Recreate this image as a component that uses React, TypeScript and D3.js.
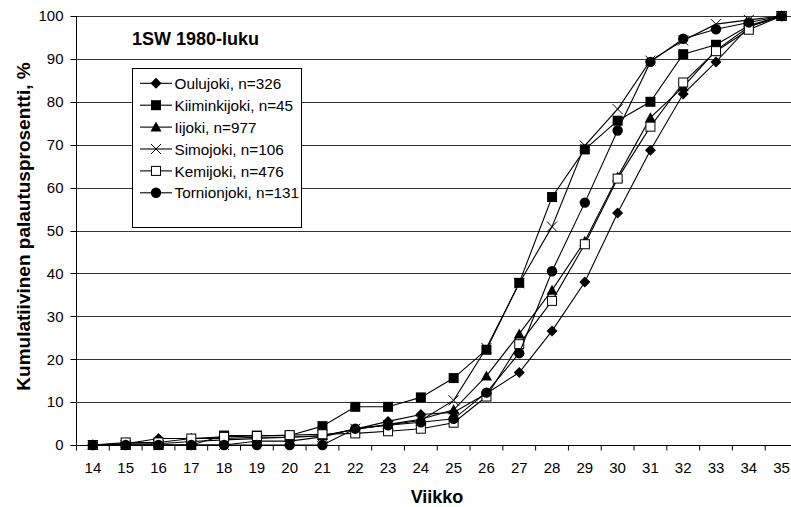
import React from "react";
import * as d3 from "d3";

const weeks = [14,15,16,17,18,19,20,21,22,23,24,25,26,27,28,29,30,31,32,33,34,35];
const yTicks = [0,10,20,30,40,50,60,70,80,90,100];

const oulujoki =    [0,0.3,1.5,1.5,1.5,1.8,1.8,2.1,3.7,5.5,7.1,7.6,12.0,16.9,26.6,38.0,54.1,68.7,81.8,89.3,97.5,100];
const kiiminkijoki =[0,0,0,0,2.2,2.2,2.2,4.4,8.9,8.9,11.1,15.6,22.2,37.8,57.8,68.9,75.6,80.0,91.1,93.3,97.8,100];
const iijoki =      [0,0.3,0.3,0.8,1.2,1.5,1.8,2.2,3.6,4.8,6.0,8.2,16.1,25.9,36.1,47.5,62.5,76.3,83.5,92.0,97.5,100];
const simojoki =    [0,0,0,0,0,0.9,0.9,1.9,3.8,4.7,5.7,10.4,22.6,37.7,50.9,69.8,78.3,89.6,94.3,98.1,99.1,100];
const kemijoki =    [0,0.6,0.6,1.5,1.9,2.1,2.3,2.5,2.7,3.2,3.8,5.2,11.3,23.5,33.6,46.8,62.1,74.2,84.5,91.8,96.8,100];
const tornionjoki = [0,0,0,0,0,0,0,0,3.8,4.6,5.3,6.1,12.2,21.4,40.5,56.5,73.3,89.3,94.7,96.9,98.5,100];

const seriesNames = ["Oulujoki, n=326","Kiiminkijoki, n=45","Iijoki, n=977","Simojoki, n=106","Kemijoki, n=476","Tornionjoki, n=131"];
const seriesValues = [oulujoki, kiiminkijoki, iijoki, simojoki, kemijoki, tornionjoki];
const seriesMarkers = ["diamond","square","triangle","x","opensquare","circle"];

const FONT = "'Liberation Sans', Arial, Helvetica, sans-serif";

function Marker({ type, x, y }: { type: string; x: number; y: number }) {
  switch (type) {
    case "diamond":
      return <path d={`M${x},${y-5.5}L${x+5.5},${y}L${x},${y+5.5}L${x-5.5},${y}Z`} fill="#000" />;
    case "square":
      return <rect x={x-5} y={y-5} width={10} height={10} fill="#000" />;
    case "triangle":
      return <path d={`M${x},${y-5.5}L${x+5.5},${y+4.5}L${x-5.5},${y+4.5}Z`} fill="#000" />;
    case "x":
      return <path d={`M${x-5},${y-5}L${x+5},${y+5}M${x-5},${y+5}L${x+5},${y-5}`} stroke="#000" strokeWidth={1} fill="none" />;
    case "opensquare":
      return <rect x={x-4.5} y={y-4.5} width={9} height={9} fill="#fff" stroke="#000" strokeWidth={1} />;
    case "circle":
      return <circle cx={x} cy={y} r={5.2} fill="#000" />;
    default:
      return null;
  }
}

export default function App() {
  const W = 791, H = 507;
  const left = 76.5, right = 798, top = 16, bottom = 445;
  const x = d3.scaleBand<number>().domain(weeks).range([left, right]).padding(0);
  const y = d3.scaleLinear().domain([0, 100]).range([bottom, top]);
  const cx = (w: number) => (x(w) as number) + x.bandwidth() / 2;
  const line = d3.line<number>().x((_, i) => cx(weeks[i])).y((v) => y(v));

  const tickXs = weeks.map((w) => x(w) as number).concat([right]);

  const legX = 132, legY = 68, legW = 169, legH = 159;
  const rowH = 21.9;

  return (
    <svg width={W} height={H} style={{ position: "fixed", left: 0, top: 0, background: "#fff" }} fontFamily={FONT}>
      <rect x={0} y={0} width={W} height={H} fill="#fff" />
      {yTicks.filter((t) => t > 0).map((t) => (
        <line key={"g" + t} x1={left} x2={right} y1={Math.round(y(t)) + 0.5} y2={Math.round(y(t)) + 0.5} stroke="#333" strokeWidth={1} />
      ))}
      {/* y axis */}
      <line x1={left} x2={left} y1={top} y2={bottom} stroke="#000" strokeWidth={1} />
      {yTicks.map((t) => (
        <g key={"yt" + t}>
          <line x1={left - 6} x2={left} y1={Math.round(y(t)) + 0.5} y2={Math.round(y(t)) + 0.5} stroke="#000" />
          <text x={63.5} y={y(t) + 5.3} textAnchor="end" fontSize={15} fill="#000">{t}</text>
        </g>
      ))}
      {/* x axis */}
      <line x1={left} x2={right} y1={bottom + 0.5} y2={bottom + 0.5} stroke="#000" />
      {tickXs.map((t, i) => (
        <line key={"xt" + i} x1={t} x2={t} y1={bottom} y2={bottom + 5.5} stroke="#000" />
      ))}
      {weeks.map((w) => (
        <text key={"xl" + w} x={cx(w)} y={473} textAnchor="middle" fontSize={15} fill="#000">{w}</text>
      ))}
      <text x={437} y={502.5} textAnchor="middle" fontSize={18} fontWeight="bold" fill="#000">Viikko</text>
      <text transform={`translate(29.5,${(60 + 393) / 2}) rotate(-90)`} textAnchor="middle" fontSize={19} fontWeight="bold" fill="#000">
        Kumulatiivinen palautusprosentti, %
      </text>
      {/* series */}
      {seriesValues.map((vals, si) => (
        <g key={"s" + si}>
          <path d={line(vals) || ""} fill="none" stroke="#000" strokeWidth={1.1} />
          {vals.map((v, i) => (
            <Marker key={i} type={seriesMarkers[si]} x={cx(weeks[i])} y={y(v)} />
          ))}
        </g>
      ))}
      {/* title */}
      <text x={132} y={45} fontSize={18} fontWeight="bold" fill="#000">1SW 1980-luku</text>
      {/* legend */}
      <rect x={legX + 0.5} y={legY + 0.5} width={legW} height={legH} fill="#fff" stroke="#000" strokeWidth={1} />
      {seriesNames.map((name, i) => {
        const ry = 83.3 + i * rowH;
        return (
          <g key={"l" + i}>
            <line x1={140} x2={172} y1={ry} y2={ry} stroke="#000" strokeWidth={1.1} />
            <Marker type={seriesMarkers[i]} x={156} y={ry} />
            <text x={174.5} y={ry + 5.6} fontSize={15.3} fill="#000">{name}</text>
          </g>
        );
      })}
    </svg>
  );
}
